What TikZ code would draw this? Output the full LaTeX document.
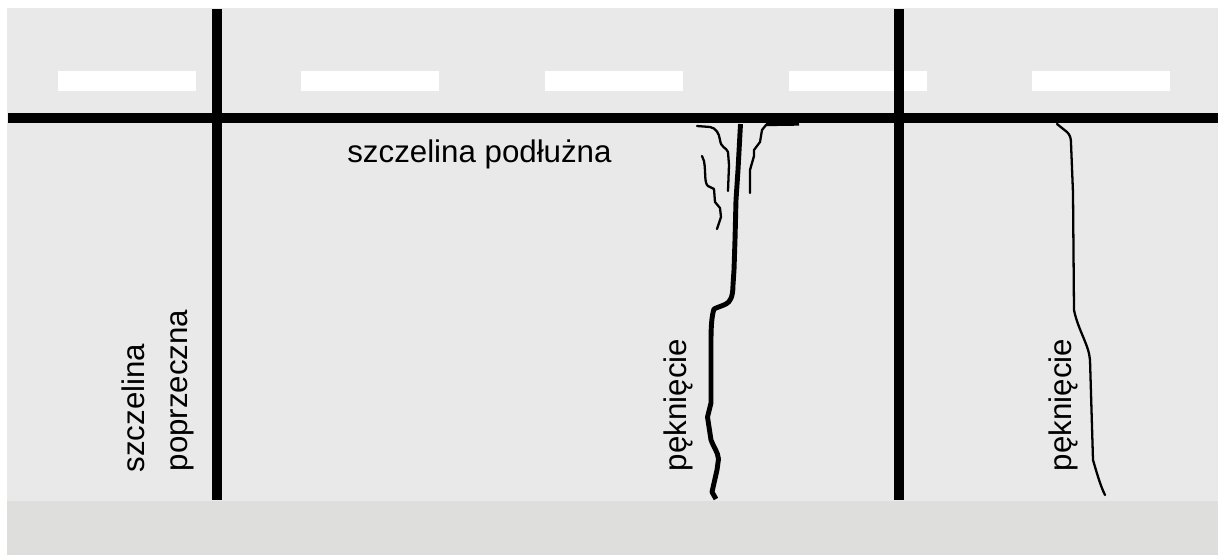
\documentclass[tikz,border=0pt]{standalone}
\usepackage{fontspec}
\setmainfont{Liberation Sans}
\usepackage{xcolor}
\usetikzlibrary{positioning}
\definecolor{roadgray}{HTML}{E9E9E9}
\definecolor{verge}{HTML}{DEDEDC}
\tikzset{
  joint/.style={draw=black,line width=5.67pt},
  crack/.style={draw=black,line width=1.3pt,line cap=round,line join=round},
  crackthick/.style={draw=black,line width=2.8pt,line join=round},
  lab/.style={font=\fontsize{17.8}{20}\selectfont,inner sep=0pt,align=center},
}
\begin{document}
\begin{tikzpicture}[x=0.02cm,y=-0.02cm]
  \useasboundingbox (0,0) rectangle (1218,555);
  % road surface and verge
  \fill[roadgray] (7,8) rectangle (1218,501);
  \fill[verge] (7,501) rectangle (1218,555);
  % lane marking
  \foreach \x in {58,301,545,789,1032} \fill[white] (\x,71) rectangle (\x+138,91);
  % joints
  \draw[joint] (217,9)--(217,500);
  \draw[joint] (899,9)--(899,500);
  \draw[joint] (8,118)--(1218,118);
  % cracks, middle
  \draw[crackthick] (740.5,124)--(738,170)--(736,200)--(735,240)--(734,270)--(733,285)
    .. controls (733,297) and (730,302) .. (726,304)
    .. controls (722,306) and (718,307) .. (714,309)
    .. controls (712,315) and (711,325) .. (711,340)--(711,403)--(707.5,417)--(711,440)
    .. controls (713,446) and (718,452) .. (718.5,459)--(717,470)--(712,492)--(716,499);
  \draw[crack] (697,126)--(710,127) .. controls (716,128) and (719,133) .. (720,140)
    .. controls (721,148) and (726,147) .. (728,152)--(729,165)--(728,191);
  \draw[crack] (702,156)--(704,161) .. controls (706,172) and (704,183) .. (708,186)
    --(714,189)--(715,202)--(720,208)--(721,217)--(717,229);
  \draw[crack] (750,193)--(750,170)--(754,156)--(754,150)--(760,142)--(762,130)--(766,125)--(770,124.5);
  \draw[crackthick,line width=1.9pt] (766,124.5)--(799,124);
  % crack, right
  \draw[crack] (1057,124)--(1067,132) .. controls (1070,135) and (1071,138) .. (1071,143)
    --(1073,193)--(1074,310) .. controls (1078,330) and (1089,345) .. (1090,360)
    --(1093,460) .. controls (1096,470) and (1100,485) .. (1105,495);
  % labels
  \node[lab,anchor=base west] (lblong) at (347,162) {szczelina podłużna};
  \node[lab,rotate=90,anchor=base] (lbtrans) at (144.5,408) {szczelina};
  \node[lab,rotate=90,anchor=base] (lbtranstwo) at (187.5,390.5) {poprzeczna};
  \node[lab,rotate=90,anchor=base] (lbcrackmid) at (686,405) {pęknięcie};
  \node[lab,rotate=90,anchor=base] (lbcrackright) at (1071,405) {pęknięcie};
\end{tikzpicture}
\end{document}
